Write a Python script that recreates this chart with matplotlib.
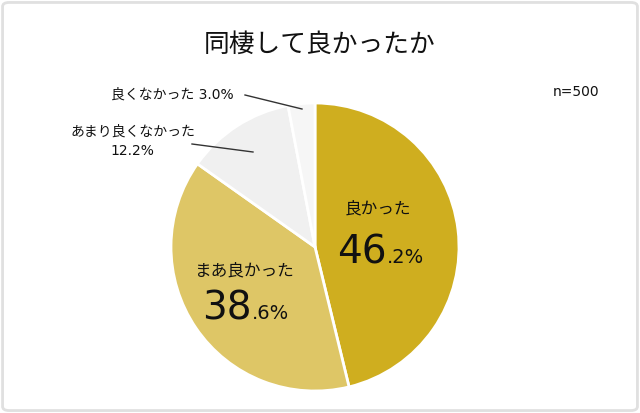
import matplotlib
matplotlib.use('Agg')
import matplotlib.pyplot as plt
import matplotlib.patches as mpatches

plt.rcParams['font.family'] = ['DejaVu Sans', 'Noto Sans CJK JP']

# data
labels = ['良かった', 'まあ良かった', 'あまり良くなかった', '良くなかった']
values = [46.2, 38.6, 12.2, 3.0]
colors = ['#CFAE1F', '#DEC666', '#F0F0F0', '#F6F6F6']
title = '同棲して良かったか'
n_text = 'n=500'

W, H = 640, 413
fig = plt.figure(figsize=(W / 100, H / 100), dpi=100, facecolor='white')

def fx(x):
    return x / W

def fy(y):
    return 1 - y / H

# outer frame
fig.patches.append(mpatches.FancyBboxPatch(
    (0.004, 0.006), 0.992, 0.988, boxstyle='round,pad=0,rounding_size=0.01',
    transform=fig.transFigure, facecolor='none', edgecolor='#E0E0E0', linewidth=2))

# pie
cx, cy, r = 315, 247, 144
ax = fig.add_axes([fx(cx - r), fy(cy + r), 2 * r / W, 2 * r / H])
ax.pie(values, colors=colors, startangle=90, counterclock=False,
       wedgeprops=dict(edgecolor='white', linewidth=2))
ax.set_xlim(-1, 1)
ax.set_ylim(-1, 1)
ax.set_aspect('auto')
ax.axis('off')

fig.text(0.5, fy(45), title, ha='center', va='center', fontsize=18.5, color='#111111')
fig.text(fx(576), fy(92), n_text, ha='center', va='center', fontsize=10, color='#111111')

# labels inside the big slices
fig.text(fx(378), fy(208), labels[0], ha='center', va='center', fontsize=12, color='#111111')
fig.text(fx(387), fy(263), f'{values[0]:.1f}'.split('.')[0], ha='right', va='baseline',
         fontsize=28, color='#111111')
fig.text(fx(387), fy(263), '.' + f'{values[0]:.1f}'.split('.')[1] + '%', ha='left',
         va='baseline', fontsize=14, color='#111111')

fig.text(fx(245), fy(270), labels[1], ha='center', va='center', fontsize=12, color='#111111')
fig.text(fx(252), fy(319), f'{values[1]:.1f}'.split('.')[0], ha='right', va='baseline',
         fontsize=28, color='#111111')
fig.text(fx(252), fy(319), '.' + f'{values[1]:.1f}'.split('.')[1] + '%', ha='left',
         va='baseline', fontsize=14, color='#111111')

# outside labels with leader lines
fig.text(fx(172), fy(95), f'{labels[3]} {values[3]:.1f}%', ha='center', va='center',
         fontsize=10, color='#111111')
fig.add_artist(plt.Line2D([fx(245), fx(302)], [fy(95), fy(109)], color='#333333', lw=1))

fig.text(fx(133), fy(132), labels[2], ha='center', va='center', fontsize=10, color='#111111')
fig.text(fx(132), fy(151), f'{values[2]:.1f}%', ha='center', va='center', fontsize=10,
         color='#111111')
fig.add_artist(plt.Line2D([fx(192), fx(253)], [fy(144), fy(152)], color='#333333', lw=1))

fig.savefig('out.png', dpi=100, facecolor='white')
